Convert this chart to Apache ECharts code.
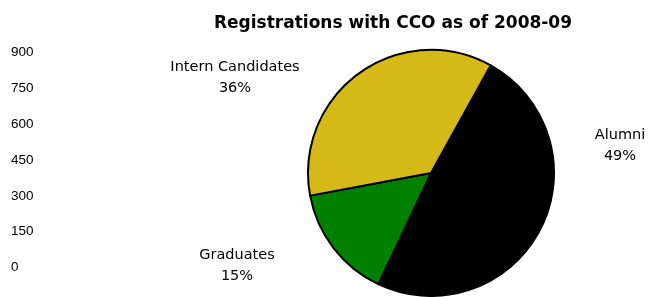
<!DOCTYPE html>
<html>
<head>
<meta charset="utf-8">
<script src="https://cdn.jsdelivr.net/npm/echarts@6/dist/echarts.min.js"></script>
<style>html,body{margin:0;padding:0;background:#fff}#c{width:658px;height:297px}</style>
</head>
<body>
<div id="c"></div>
<script>
var titleText = 'Registrations with CCO as of 2008-09';
var categories = ['Alumni', 'Graduates', 'Intern Candidates'];
var percents = [49, 15, 36];
var yTicks = [0, 150, 300, 450, 600, 750, 900];

var colors = ['#000000', '#008000', '#D5BA17'];
var labelPos = [
  {x: 620, y: 146},
  {x: 237, y: 265.5},
  {x: 235, y: 77.5}
];

var chart = echarts.init(document.getElementById('c'), null, {renderer: 'canvas'});
chart.setOption({
  animation: false,
  backgroundColor: '#ffffff',
  textStyle: {fontFamily: 'Liberation Sans, Arial, sans-serif'},
  title: {
    text: titleText,
    left: 388,
    textAlign: 'center',
    top: 10,
    textStyle: {fontFamily: 'DejaVu Sans, sans-serif', fontSize: 17, fontWeight: 'bold', color: '#000'}
  },
  grid: {left: 11, top: 52.5, bottom: 29.5, width: 1},
  xAxis: {type: 'value', show: false},
  yAxis: {
    type: 'value',
    min: yTicks[0],
    max: yTicks[yTicks.length - 1],
    interval: yTicks[1] - yTicks[0],
    axisLine: {show: false},
    axisTick: {show: false},
    splitLine: {show: false},
    axisLabel: {align: 'left', margin: 0, fontSize: 13.5, color: '#000', fontFamily: 'Liberation Sans, Arial, sans-serif'}
  },
  series: [{
    type: 'pie',
    center: [431, 173],
    radius: 123,
    startAngle: 61,
    clockwise: true,
    data: categories.map(function (c, i) {
      return {name: c, value: percents[i], itemStyle: {color: colors[i]}};
    }),
    itemStyle: {borderColor: '#000', borderWidth: 2},
    emphasis: {disabled: true},
    label: {
      show: true,
      position: 'outside',
      formatter: function (p) { return p.name + '\n' + percents[p.dataIndex] + '%'; },
      fontSize: 14.5,
      lineHeight: 21,
      color: '#000',
      align: 'center',
      fontFamily: 'DejaVu Sans, sans-serif'
    },
    labelLine: {show: false},
    labelLayout: function (params) {
      var p = labelPos[params.dataIndex];
      return {x: p.x, y: p.y, align: 'center', verticalAlign: 'middle'};
    }
  }]
});
</script>
</body>
</html>
